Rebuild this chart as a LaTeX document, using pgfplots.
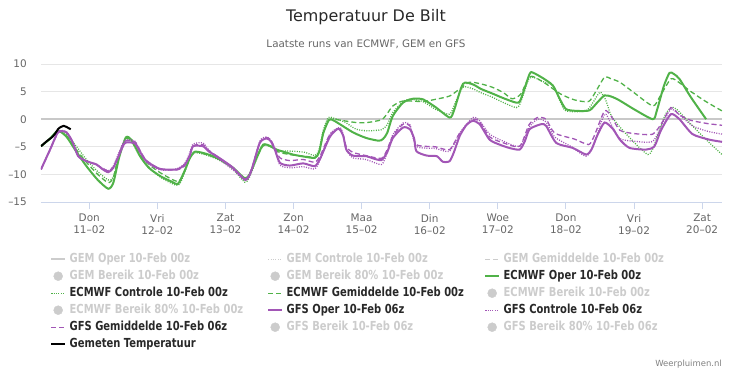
\documentclass[border=0pt]{standalone}
\usepackage{fontspec}
\setmainfont{DejaVu Sans}
\newfontfamily\legfont[FakeStretch=0.8]{DejaVu Sans Bold}
\usepackage{pgfplots}
\pgfplotsset{compat=1.18}
\definecolor{ecm}{RGB}{80,178,72}
\definecolor{gfs}{RGB}{162,86,182}
\definecolor{legin}{RGB}{204,204,204}
\definecolor{legact}{RGB}{40,40,40}
\definecolor{gridc}{RGB}{230,230,230}
\definecolor{zeroc}{RGB}{200,200,200}
\definecolor{axc}{RGB}{204,214,235}
\definecolor{labc}{RGB}{102,102,102}
\newcommand{\LI}[1]{\makebox[194bp][l]{\textcolor{legin}{#1}}}
\newcommand{\LA}[1]{\makebox[194bp][l]{\textcolor{legact}{#1}}}
\tikzset{
  solidl/.style={line width=2bp},
  dashl/.style={line width=1.3bp, dash pattern=on 5bp off 3bp},
  dotl/.style={line width=1.3bp, dash pattern=on 1bp off 1.4bp},
}
\begin{document}
\begin{tikzpicture}
\path[use as bounding box] (0,0) rectangle (732bp,371bp);
\node[font=\fontsize{16}{19}\selectfont, text=legact] at (366bp,354bp) {Temperatuur De Bilt};
\node[font=\fontsize{10.4}{12}\selectfont, text=labc] at (366bp,327bp) {Laatste runs van ECMWF, GEM en GFS};
\node[font=\fontsize{8.5}{10}\selectfont, text=gray, anchor=east, inner sep=0pt] at (722bp,7bp) {Weerpluimen.nl};
\begin{axis}[
  at={(41bp,169bp)}, anchor=south west,
  scale only axis, width=681bp, height=138bp,
  xmin=7, xmax=247, ymin=-15, ymax=10,
  ytick={-15,-10,-5,0,5,10},
  yticklabels={–15,–10,–5,0,5,10},
  xtick={24,48,...,240},
  xticklabels={{Don\\11–02},{Vri\\12–02},{Zat\\13–02},{Zon\\14–02},{Maa\\15–02},{Din\\16–02},{Woe\\17–02},{Don\\18–02},{Vri\\19–02},{Zat\\20–02}},
  xticklabel style={align=center, font=\fontsize{10.5}{12}\selectfont, text=labc, inner sep=0pt, anchor=north, yshift=-5bp},
  yticklabel style={font=\fontsize{10.5}{12}\selectfont, text=labc, inner sep=0pt, anchor=east, xshift=-7bp},
  separate axis lines,
  axis x line*=bottom, axis y line*=left,
  x axis line style={draw=axc, line width=1bp},
  y axis line style={draw=none},
  ytick style={draw=none},
  xtick style={draw=axc, line width=1bp},
  tick align=outside, major tick length=7bp,
  ymajorgrids, grid style={draw=gridc, line width=1bp},
  legend columns=3,
  legend image code/.code={\draw[mark repeat=2,mark phase=2,#1] plot coordinates {(0bp,0bp)(7bp,0bp)(14bp,0bp)};},
  legend style={draw=none, fill=none, inner sep=0pt, column sep=0pt, row sep=5bp,
    at={(axis description cs:0.0132,-0.3696)}, anchor=north west,
    font=\legfont\fontsize{12.5}{14}\selectfont,
    nodes={inner xsep=3.5bp, inner ysep=0pt, text height=9bp, text depth=3bp, anchor=west}},
]
\addplot[draw=zeroc, line width=1.5bp, forget plot] coordinates {(7,0) (247,0)};
% inactive GEM entries
\addlegendimage{draw=legin, solidl}\addlegendentry{\LI{GEM Oper 10-Feb 00z}}
\addlegendimage{draw=legin, dotl}\addlegendentry{\LI{GEM Controle 10-Feb 00z}}
\addlegendimage{draw=legin, dashl}\addlegendentry{\LI{GEM Gemiddelde 10-Feb 00z}}
\addlegendimage{only marks, mark=*, mark size=4.5bp, color=legin}\addlegendentry{\LI{GEM Bereik 10-Feb 00z}}
\addlegendimage{only marks, mark=*, mark size=4.5bp, color=legin}\addlegendentry{\LI{GEM Bereik 80\% 10-Feb 00z}}
% ECMWF Oper
\addplot[ecm, solidl, smooth, tension=0.4] coordinates {
(7,-4.9)(10,-3.6)(13,-2.1)(16,-3.2)(19.6,-6.0)(23,-8.5)(27,-11.0)(30.7,-12.6)(32.5,-11.5)(34.5,-7)(36.9,-3.3)(39,-3.8)(41.9,-6.7)(45,-8.8)(49,-10.3)(53,-11.3)(55.3,-11.7)(57.5,-9.5)(59.5,-7)(61.2,-5.9)(64,-6.1)(67.7,-6.7)(71,-7.6)(74.7,-8.8)(78.8,-10.7)(80.5,-10)(83,-7)(85.3,-4.6)(88,-4.9)(90,-5.5)(95.8,-6.4)(100,-6.8)(103.5,-7.0)(105,-6)(106.5,-2.5)(108.5,-0.1)(110,-0.2)(112,-0.8)(117,-2.4)(121.6,-3.4)(126,-3.9)(127.5,-3.6)(129,-2.5)(131,0.6)(134.6,3.0)(138,3.7)(141.6,3.6)(146,2.2)(151,0.3)(152.5,1.5)(155.7,6.4)(159.2,6.3)(162,5.5)(166.3,4.6)(170,3.8)(174.5,3.0)(176,3.5)(179.2,8.2)(180.5,8.4)(184,7.4)(187.4,6.1)(190,3.5)(192.1,1.8)(196,1.5)(200.3,1.6)(203,3.0)(205.6,4.3)(208,4.1)(210.9,3.4)(216,1.8)(222.6,0.0)(224,1.5)(226.5,6)(228.5,8.4)(230,8.2)(232,7.3)(236,4)(241.4,0.0)};
\addlegendentry{\LA{ECMWF Oper 10-Feb 00z}}
% ECMWF Controle
\addplot[ecm, dotl, smooth, tension=0.4] coordinates {
(7,-4.9)(10,-3.7)(13,-2.2)(16,-2.8)(19.6,-5)(23,-7.3)(27,-9.5)(30.7,-11)(32.5,-10.5)(34.5,-6.5)(36.9,-3.6)(39,-4.2)(42,-6.8)(46,-9.2)(50,-10.8)(55.3,-12)(57.5,-9.8)(59.5,-7)(61.2,-6.1)(64,-6.3)(68,-7.0)(72,-8)(75,-9.2)(78.8,-11.4)(80.5,-10.5)(83,-7.2)(85.3,-4.8)(88,-5.0)(91,-5.7)(95.8,-5.8)(100,-6.0)(103.5,-6.6)(105,-5.5)(106.5,-2)(108.2,0.3)(110,0.2)(114,-0.5)(118,-1.8)(122,-2.1)(127,-1.9)(129,-1.0)(131,1.2)(134.6,3.2)(137,3.6)(141.6,3.2)(146,1.8)(151,0.9)(153,3)(155.7,5.8)(159.2,5.5)(162,4.8)(166,4.0)(170,3.0)(174.5,2.1)(176,3)(179,7.4)(181,7.5)(184,6.8)(187.4,6.1)(190,3.2)(192,1.5)(199,1.5)(201.5,3)(204,4.9)(206,3.5)(208,0.6)(212,-2)(217.4,-4.9)(220.9,-6.4)(222.5,-5.5)(225,-2)(227,0.8)(229,2.1)(231,1.8)(236.6,-1.2)(242,-4)(247,-6.4)};
\addlegendentry{\LA{ECMWF Controle 10-Feb 00z}}
% ECMWF Gemiddelde
\addplot[ecm, dashl, smooth, tension=0.4] coordinates {
(7,-4.9)(10,-3.7)(13,-2.2)(16,-3.0)(19.6,-5.6)(23,-7.8)(27,-10)(30.7,-11.5)(32.5,-10.5)(34.5,-6.5)(36.9,-3.5)(39,-4)(42,-6.5)(46,-8.6)(50,-10)(55.3,-11.3)(57.5,-9.5)(59.5,-7)(61.2,-5.9)(64,-6.2)(68,-6.9)(72,-7.8)(75,-9)(78.8,-10.9)(80.5,-10)(83,-7)(85.3,-4.8)(88,-5.0)(91,-6.0)(95.8,-6.5)(100,-6.7)(103.5,-6.9)(105,-6)(106.5,-2.5)(108.2,-0.3)(110,0)(114,-0.3)(118,-0.6)(122,-0.6)(127,-0.1)(129,1.0)(131,2.4)(134.6,3.3)(141.6,3.2)(146,3.6)(151,4.2)(154.6,5.5)(158,6.7)(162,6.4)(166,5.8)(170,4.8)(173,3.7)(176,4.5)(179,7.6)(181,7.6)(185,6.4)(190,4.6)(195,3.5)(200,3.2)(202.5,5)(205.6,7.6)(208,7.3)(211,6.7)(216,4.8)(222.6,2.4)(225,4)(229,7.3)(232,6.6)(235.5,5.2)(241,3.3)(247,1.5)};
\addlegendentry{\LA{ECMWF Gemiddelde 10-Feb 00z}}
\addlegendimage{only marks, mark=*, mark size=4.5bp, color=legin}\addlegendentry{\LI{ECMWF Bereik 10-Feb 00z}}
\addlegendimage{only marks, mark=*, mark size=4.5bp, color=legin}\addlegendentry{\LI{ECMWF Bereik 80\% 10-Feb 00z}}
% GFS Oper
\addplot[gfs, solidl, smooth, tension=0.4] coordinates {
(7,-9.1)(10.2,-5.5)(13.1,-2.3)(16,-2.4)(18,-4)(20.1,-6.7)(23,-7.6)(26.6,-8.2)(28.5,-9.0)(30.7,-9.6)(32.5,-8.8)(34.5,-6.5)(36.6,-4.3)(40.1,-4.4)(42,-6)(44.2,-7.6)(48.9,-9.0)(54.8,-9.1)(57.7,-8.2)(59.5,-6.5)(60.6,-4.9)(64.1,-4.9)(66,-5.8)(68.9,-6.7)(71.5,-7.6)(74.7,-8.8)(79,-11.0)(81,-9.5)(84.1,-4.3)(86.5,-3.5)(88,-4)(89.4,-5.5)(91.2,-7.9)(94.7,-8.4)(99.4,-8.0)(103.5,-8.5)(105.5,-7)(108.8,-3.2)(111.8,-1.7)(113.5,-3)(114.6,-5.5)(116.9,-6.6)(121.6,-6.7)(124,-7.1)(127,-7.4)(129,-6)(131,-3.4)(134.6,-1.5)(137,-1.8)(138.5,-3.5)(139.3,-5.8)(143,-6.6)(146.5,-6.7)(148.6,-7.7)(151,-7.6)(152.5,-6)(154.6,-3.0)(157,-1.0)(159.2,-0.3)(161.6,-0.9)(165.1,-3.7)(168.6,-4.6)(172,-5.2)(175.7,-5.5)(177.5,-4)(179.2,-1.8)(183.3,-0.9)(185,-1.2)(188.6,-4.3)(194.4,-5.2)(199.1,-6.4)(201,-5.5)(203,-3)(205.6,-0.6)(208.6,-1.8)(211,-3.7)(214.4,-5.2)(220.3,-5.5)(223.2,-4.9)(225.5,-2)(229,0.9)(232,0.0)(236.6,-2.7)(242.5,-3.7)(247,-4.1)};
\addlegendentry{\LA{GFS Oper 10-Feb 06z}}
% GFS Controle
\addplot[gfs, dotl, smooth, tension=0.4] coordinates {
(7,-9.1)(10.2,-5.5)(13.1,-2.2)(16,-2.3)(18,-4)(20.1,-6.6)(23,-7.5)(26.6,-8.3)(30.7,-9.3)(32.5,-8.5)(34.5,-6)(36.6,-3.8)(40.1,-4.0)(42,-5.8)(44.2,-7.8)(48.9,-9.2)(54.8,-9.0)(57.7,-8.0)(59.5,-6)(60.6,-4.5)(64.1,-4.3)(66,-5.5)(68.9,-6.9)(74.7,-9.2)(79,-11.0)(81,-9.6)(84.1,-4.0)(86.5,-3.2)(88,-3.8)(89.4,-5.4)(91.2,-8.3)(94.7,-8.8)(99.4,-8.6)(103.5,-9.0)(105.5,-7.2)(108.8,-2.7)(112.3,-1.5)(113.5,-2.8)(114.6,-5.5)(116.9,-7.0)(121.6,-7.3)(127,-8.2)(129,-6)(131,-2.8)(134.6,-0.7)(137,-1.0)(139.3,-4.9)(146,-5.3)(151,-5.8)(154.6,-2.5)(159.2,0.3)(161.6,-0.3)(165.1,-2.7)(170,-4.0)(175.7,-4.9)(179,-1.5)(182,0.0)(185,-0.5)(188,-3.2)(194,-5.0)(199,-6.7)(201.5,-5)(205.6,0.9)(208,-1.0)(211,-3.5)(216,-4.0)(222.6,-4.0)(226,-0.8)(229,1.8)(232,0.8)(236.6,-1.2)(242,-2.2)(247,-2.7)};
\addlegendentry{\LA{GFS Controle 10-Feb 06z}}
% GFS Gemiddelde
\addplot[gfs, dashl, smooth, tension=0.4] coordinates {
(7,-9.1)(10.2,-5.6)(13.1,-2.4)(16,-2.5)(18,-4)(20.1,-6.6)(23,-7.6)(26.6,-8.3)(30.7,-9.4)(32.5,-8.6)(34.5,-6.3)(36.6,-4.0)(40.1,-4.1)(42,-5.8)(44.2,-7.5)(48.9,-9.0)(54.8,-9.2)(57.7,-8.4)(59.5,-6.3)(60.6,-4.8)(64.1,-4.6)(66,-5.6)(68.9,-6.7)(74.7,-8.9)(79,-10.8)(81,-9.4)(84.1,-4.2)(86.5,-3.3)(88,-3.8)(89.4,-5.2)(91.2,-7.0)(94.7,-7.5)(99.4,-7.3)(103.5,-7.8)(105.5,-6.5)(108.8,-2.8)(112.3,-1.8)(113.5,-2.8)(114.6,-5.0)(116.9,-6.0)(121.6,-6.6)(127,-7.1)(129,-5.5)(131,-3.0)(134.6,-0.9)(137,-1.2)(139.3,-4.6)(146,-5.0)(151,-5.5)(154.6,-2.5)(159.2,0.0)(161.6,-0.5)(165.1,-3.2)(170,-4.3)(175.7,-4.9)(179,-1.0)(182,0.3)(185,0.0)(188,-2.5)(195,-3.6)(200,-4.6)(202,-3)(205.6,1.5)(208,0.5)(211,-2.0)(216,-2.6)(222.6,-2.7)(226,-0.5)(229,2.1)(232,0.8)(236,-0.2)(242,-0.8)(247,-1.1)};
\addlegendentry{\LA{GFS Gemiddelde 10-Feb 06z}}
\addlegendimage{only marks, mark=*, mark size=4.5bp, color=legin}\addlegendentry{\LI{GFS Bereik 10-Feb 06z}}
\addlegendimage{only marks, mark=*, mark size=4.5bp, color=legin}\addlegendentry{\LI{GFS Bereik 80\% 10-Feb 06z}}
% Gemeten
\addplot[black, solidl, smooth, tension=0.4] coordinates {
(7,-4.9)(9,-4.0)(11,-3.2)(12,-2.6)(13,-1.8)(14,-1.4)(15,-1.2)(16,-1.4)(17,-1.7)(17.5,-1.8)};
\addlegendentry{\LA{Gemeten Temperatuur}}
\end{axis}
\end{tikzpicture}
\end{document}
